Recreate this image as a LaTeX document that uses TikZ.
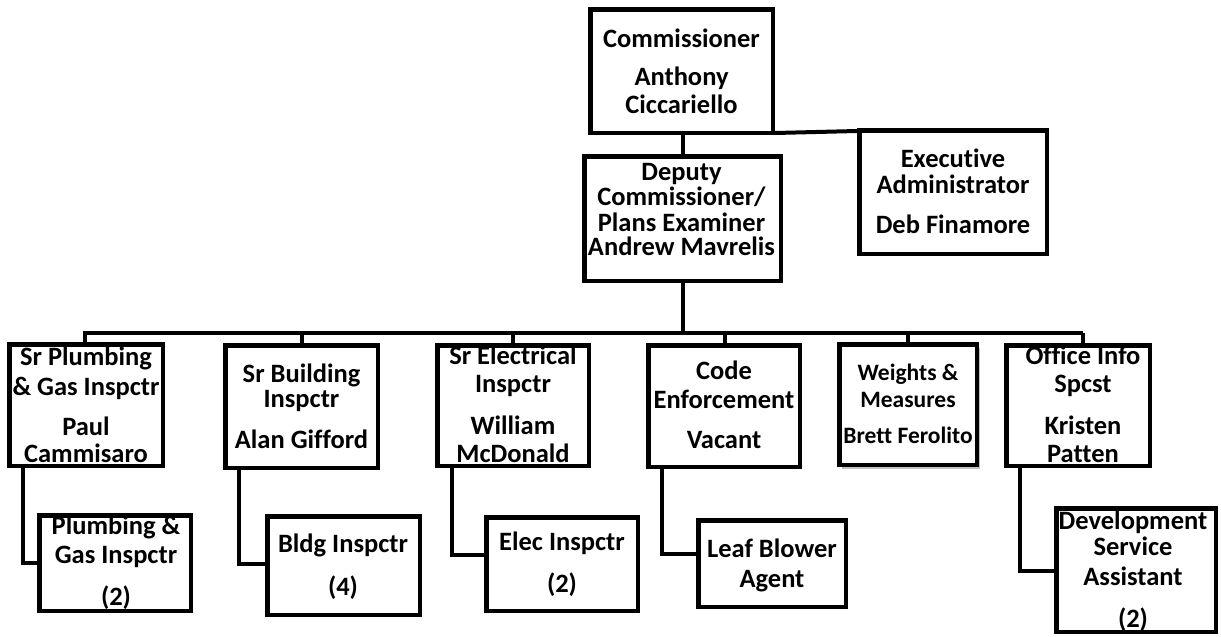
\documentclass[tikz,border=0pt]{standalone}
\usepackage{fontspec}
\setmainfont{Carlito}[Ligatures={NoCommon}]
\usetikzlibrary{shadows}
\tikzset{
  box/.style={draw=black, fill=white, line width=4.5pt, inner sep=0pt, rectangle},
  txt/.style={anchor=base, inner sep=0pt, font=\fontsize{26.5}{30}\selectfont\bfseries},
  smalltxt/.style={anchor=base, inner sep=0pt, font=\fontsize{23.5}{27}\selectfont\bfseries},
  link/.style={draw=black, line width=4pt, line cap=butt, line join=miter}
}
\begin{document}
\begin{tikzpicture}[x=1pt,y=-1pt]
\useasboundingbox (0,0) rectangle (1221,637);

\coordinate (bus) at (683,333);

% ---------- boxes ----------
\node[box, minimum width=182.5pt, minimum height=123.5pt] (comm) at (681.5,71) {};
\node[box, minimum width=196.5pt, minimum height=124.5pt] (dep) at (682.5,218.5) {};
\node[box, minimum width=187.5pt, minimum height=123.5pt] (exec) at (953,192) {};

\node[box, minimum width=153.5pt, minimum height=121.5pt] (plumb) at (86,405) {};
\node[box, minimum width=152.5pt, minimum height=122.5pt] (bldg) at (301.5,406.5) {};
\node[box, minimum width=151.5pt, minimum height=120.5pt] (elec) at (513,405.5) {};
\node[box, minimum width=151.5pt, minimum height=121.5pt] (code) at (724,406) {};
\node[box, minimum width=137.5pt, minimum height=120.5pt,
      drop shadow={shadow xshift=3pt, shadow yshift=-4pt, fill=black!35, opacity=0.7}] (wm) at (908,404.5) {};
\node[box, minimum width=143.5pt, minimum height=120.5pt] (office) at (1078,405.5) {};

\node[box, minimum width=151.5pt, minimum height=95.5pt] (plumbi) at (115,563) {};
\node[box, minimum width=152.5pt, minimum height=98.5pt] (bldgi) at (343.5,565.5) {};
\node[box, minimum width=151.5pt, minimum height=93.5pt] (eleci) at (562,564) {};
\node[box, minimum width=147.5pt, minimum height=86.5pt] (leaf) at (772,563.5) {};
\node[box, minimum width=159.5pt, minimum height=123.5pt] (dev) at (1136,570) {};

% ---------- connectors ----------
\draw[link] ([xshift=1.5pt]comm.south) -- ([xshift=0.5pt]dep.north);
\draw[link] ([yshift=2pt]comm.south east) -- ([yshift=-3pt]exec.north west);
\draw[link] ([xshift=0.5pt]dep.south) -- ([xshift=0.5pt]dep.south |- bus);
\draw[link] ([xshift=-3pt]plumb.north |- bus) -- ([xshift=5pt]office.north |- bus);
\draw[link] ([xshift=-1pt]plumb.north |- bus) -- ([xshift=-1pt]plumb.north);
\draw[link] ([xshift=0.5pt]bldg.north |- bus) -- ([xshift=0.5pt]bldg.north);
\draw[link] (elec.north |- bus) -- (elec.north);
\draw[link] ([xshift=1pt]code.north |- bus) -- ([xshift=1pt]code.north);
\draw[link] (wm.north |- bus) -- (wm.north);
\draw[link] ([xshift=5pt]office.north |- bus) -- ([xshift=5pt]office.north);

\draw[link] ([xshift=16pt]plumb.south west) |- (plumbi.west);
\draw[link] ([xshift=16pt]bldg.south west) |- ([yshift=1.5pt]bldgi.west);
\draw[link] ([xshift=17pt]elec.south west) |- ([yshift=9pt]eleci.west);
\draw[link] ([xshift=16pt]code.south west) |- ([yshift=9.5pt]leaf.west);
\draw[link] ([xshift=16pt]office.south west) |- ([yshift=-1pt]dev.west);

% ---------- texts ----------
\node[txt] (comm-1) at (681.5,47) {Commissioner};
\node[txt] (comm-2) at (681.5,85) {Anthony};
\node[txt] (comm-3) at (681.5,113) {Ciccariello};

\node[txt] (dep-1) at (681.5,180) {Deputy};
\node[txt] (dep-2) at (681.5,205) {Commissioner/};
\node[txt] (dep-3) at (681.5,231) {Plans Examiner};
\node[txt] (dep-4) at (681.5,255) {Andrew Mavrelis};

\node[txt] (exec-1) at (953,167) {Executive};
\node[txt] (exec-2) at (953,193) {Administrator};
\node[txt] (exec-3) at (953,233) {Deb Finamore};

\node[txt] (plumb-1) at (86,365) {Sr Plumbing};
\node[txt] (plumb-2) at (86,395) {\& Gas Inspctr};
\node[txt] (plumb-3) at (86,435) {Paul};
\node[txt] (plumb-4) at (86,462) {Cammisaro};

\node[txt] (bldg-1) at (301.5,382) {Sr Building};
\node[txt] (bldg-2) at (301.5,407) {Inspctr};
\node[txt] (bldg-3) at (301.5,448) {Alan Gifford};

\node[txt] (elec-1) at (513,364) {Sr Electrical};
\node[txt] (elec-2) at (513,392) {Inspctr};
\node[txt] (elec-3) at (513,434) {William};
\node[txt] (elec-4) at (513,462) {McDonald};

\node[txt] (code-1) at (724,379) {Code};
\node[txt] (code-2) at (724,408) {Enforcement};
\node[txt] (code-3) at (724,448) {Vacant};

\node[smalltxt] (wm-1) at (908,380) {Weights \&};
\node[smalltxt] (wm-2) at (908,407) {Measures};
\node[smalltxt] (wm-3) at (908,443) {Brett Ferolito};

\node[txt] (office-1) at (1083,364) {Office Info};
\node[txt] (office-2) at (1083,392) {Spcst};
\node[txt] (office-3) at (1083,434) {Kristen};
\node[txt] (office-4) at (1083,462) {Patten};

\node[txt] (plumbi-1) at (116,534) {Plumbing \&};
\node[txt] (plumbi-2) at (116,563) {Gas Inspctr};
\node[txt] (plumbi-3) at (116,605) {(2)};

\node[txt] (bldgi-1) at (343,552) {Bldg Inspctr};
\node[txt] (bldgi-2) at (343,595) {(4)};

\node[txt] (eleci-1) at (562,550) {Elec Inspctr};
\node[txt] (eleci-2) at (562,592) {(2)};

\node[txt] (leaf-1) at (772,557) {Leaf Blower};
\node[txt] (leaf-2) at (772,587) {Agent};

\node[txt] (dev-1) at (1133,529) {Development};
\node[txt] (dev-2) at (1133,555) {Service};
\node[txt] (dev-3) at (1133,585) {Assistant};
\node[txt] (dev-4) at (1133,627) {(2)};
\end{tikzpicture}
\end{document}
